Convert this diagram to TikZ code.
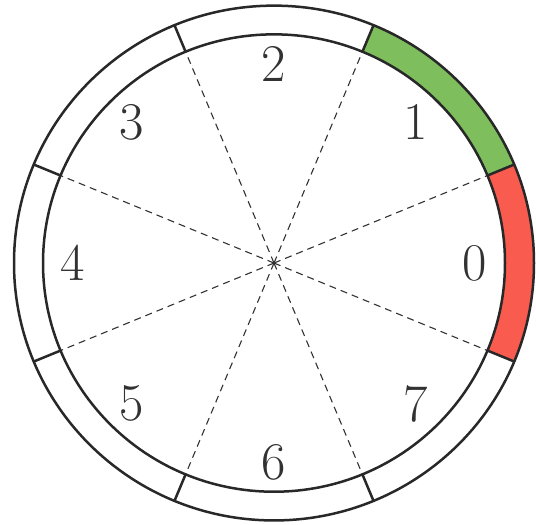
\documentclass[tikz,border=0pt]{standalone}
\definecolor{segGreen}{RGB}{126,190,92}
\definecolor{segRed}{RGB}{249,92,78}
\tikzset{
  ringline/.style={line width=2.5pt, draw={rgb,255:red,40;green,40;blue,40}},
  spoke/.style={line width=1.1pt, dash pattern=on 7pt off 5pt, draw={rgb,255:red,50;green,50;blue,50}},
  numlabel/.style={font=\fontsize{53}{62}\selectfont, text={rgb,255:red,50;green,50;blue,50}}
}
\begin{document}
\begin{tikzpicture}[x=1pt,y=0.99pt]
\useasboundingbox (0,0) rectangle (536,530.3);
\coordinate (O) at (274,264.6);
\def\Ri{231}
\def\Ro{260}
% coloured segments
\fill[segGreen] ([shift={(22.5:\Ri)}]O) arc[start angle=22.5,end angle=67.5,radius=\Ri]
  -- ([shift={(67.5:\Ro)}]O) arc[start angle=67.5,end angle=22.5,radius=\Ro] -- cycle;
\fill[segRed] ([shift={(-22.5:\Ri)}]O) arc[start angle=-22.5,end angle=22.5,radius=\Ri]
  -- ([shift={(22.5:\Ro)}]O) arc[start angle=22.5,end angle=-22.5,radius=\Ro] -- cycle;
% dashed spokes
\foreach \k in {0,...,7}{
  \pgfmathsetmacro{\a}{22.5+45*\k}
  \coordinate (in\k) at ([shift={(\a:\Ri)}]O);
  \coordinate (out\k) at ([shift={(\a:\Ro)}]O);
  \draw[spoke] (O) -- (in\k);
}
% ring
\draw[ringline] (O) circle[radius=\Ri];
\draw[ringline] (O) circle[radius=\Ro];
\foreach \k in {0,...,7}{
  \draw[ringline] (in\k) -- (out\k);
}
% labels
\foreach \k in {0,...,7}{
  \node[numlabel] (l\k) at ([shift={(45*\k:201)}]O) {\k};
}
\end{tikzpicture}
\end{document}
